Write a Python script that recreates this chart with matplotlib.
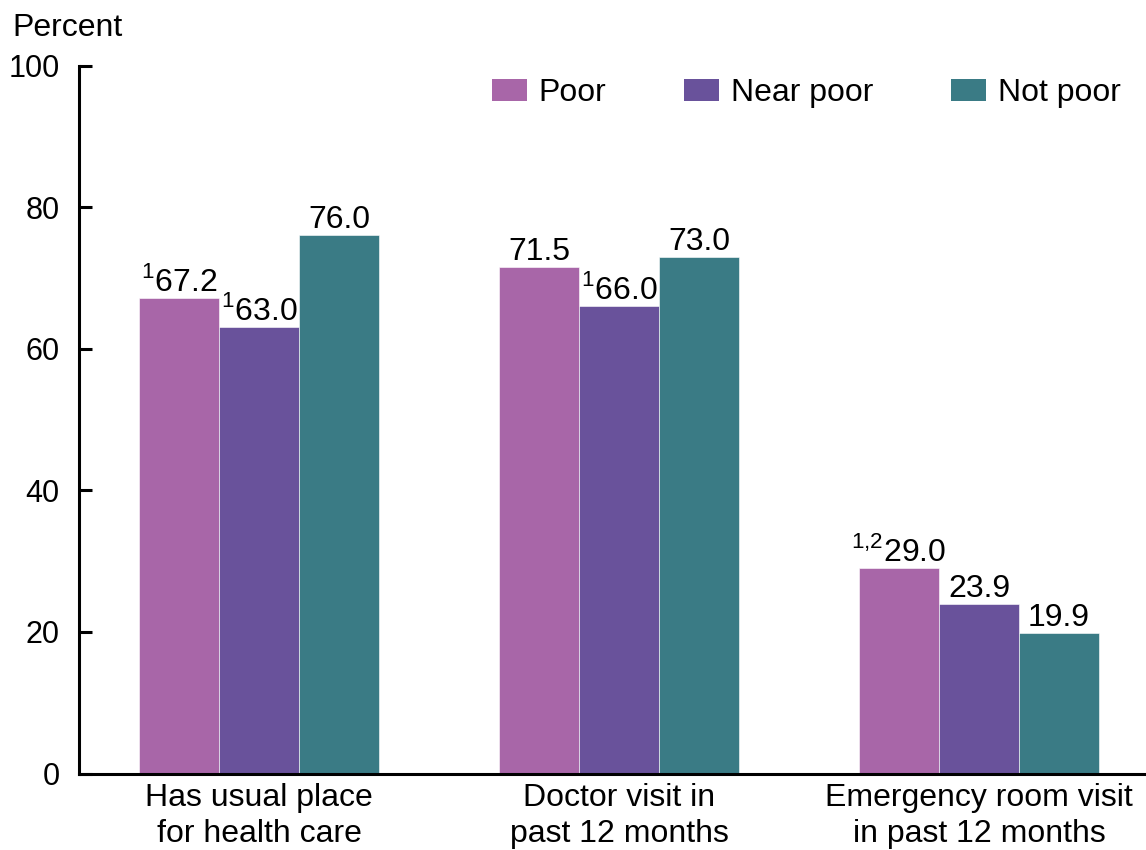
import numpy as np
import matplotlib
matplotlib.use("Agg")
import matplotlib.pyplot as plt
from matplotlib.patches import Patch

plt.rcParams["font.family"] = ["Liberation Sans", "DejaVu Sans"]
plt.rcParams["mathtext.fontset"] = "custom"
plt.rcParams["mathtext.rm"] = "Liberation Sans"

categories = ["Has usual place\nfor health care",
              "Doctor visit in\npast 12 months",
              "Emergency room visit\nin past 12 months"]
series = ["Poor", "Near poor", "Not poor"]
poor = [67.2, 71.5, 29.0]
near_poor = [63.0, 66.0, 23.9]
not_poor = [76.0, 73.0, 19.9]
notes_poor = ["1", "", "1{,}2"]
notes_near = ["1", "1", ""]
notes_not = ["", "", ""]
colors = ["#A866A8", "#69529B", "#3A7B85"]
yticks = [0, 20, 40, 60, 80, 100]

W, H = 1146, 850
fig = plt.figure(figsize=(W / 100, H / 100), dpi=100)
ax = fig.add_axes([79 / W, (H - 773.5) / H, (W - 79) / W, (773.5 - 65.5) / H])

x = np.arange(len(categories))
width = 80 / 360
fs = 23

for i, (vals, notes) in enumerate([(poor, notes_poor), (near_poor, notes_near), (not_poor, notes_not)]):
    pos = x + (i - 1) * width
    ax.bar(pos, vals, width, color=colors[i], label=series[i],
           edgecolor="white", linewidth=0.4)
    for p, v, n in zip(pos, vals, notes):
        lab = f"{v:.1f}"
        if n:
            lab = r"$^{\mathrm{" + n + "}}$" + lab
        ax.annotate(lab, (p, v), xytext=(0, 0), textcoords="offset points",
                    ha="center", va="bottom", fontsize=fs)

ax.set_xlim(-0.5, (W - 259) / 360)
ax.set_ylim(0, 100)
ax.set_yticks(yticks)
ax.set_xticks(x)
ax.set_xticklabels(categories, fontsize=fs, linespacing=1.25)
ax.tick_params(axis="x", length=0, pad=7)
ax.tick_params(axis="y", direction="in", length=9, width=2.2, pad=14, labelsize=22)
for s in ["top", "right"]:
    ax.spines[s].set_visible(False)
for s in ["left", "bottom"]:
    ax.spines[s].set_linewidth(2.2)
ax.spines["left"].set_bounds(0, 100)

fig.text(12 / W, 1 - 36 / H, "Percent", fontsize=fs, ha="left", va="baseline")

handles = [Patch(facecolor=c, edgecolor="none") for c in colors]
fig.legend(handles, series, loc="center left", bbox_to_anchor=(492 / W, 1 - 93 / H),
           ncol=3, frameon=False, fontsize=fs, handlelength=1.1, handleheight=0.7,
           handletextpad=0.35, columnspacing=2.45, borderpad=0, borderaxespad=0)

fig.savefig("out.png", dpi=100)
